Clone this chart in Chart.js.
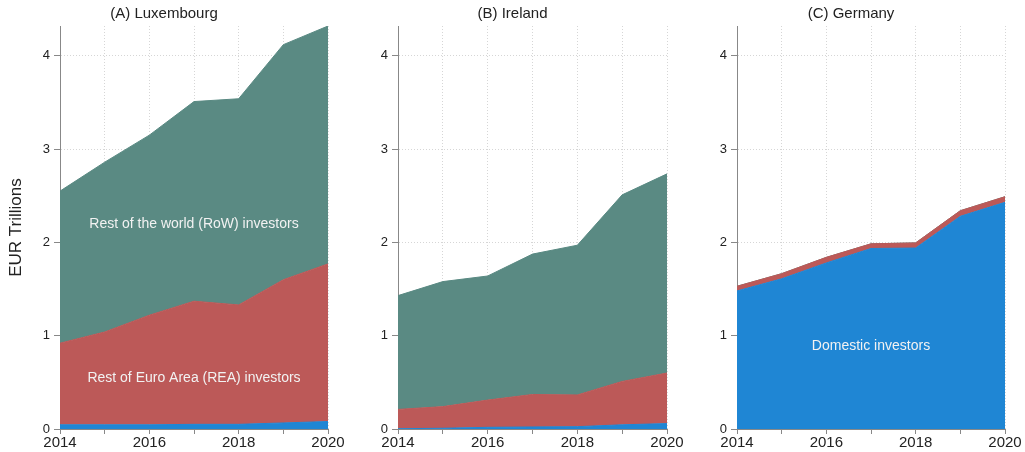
<!DOCTYPE html>
<html>
<head>
<meta charset="utf-8">
<script src="https://cdn.jsdelivr.net/npm/chart.js@4.4.1/dist/chart.umd.min.js"></script>
<style>
  body { margin: 0; background: #fff; }
  canvas { position: absolute; top: 0; }
</style>
</head>
<body>
<canvas id="chartA" width="346" height="452" style="left:0px"></canvas>
<canvas id="chartB" width="327" height="452" style="left:358px"></canvas>
<canvas id="chartC" width="326" height="452" style="left:697px"></canvas>

<script>
// Holdings of investment fund shares by investor type, EUR trillions
const years = ['2014', '2015', '2016', '2017', '2018', '2019', '2020'];
const yTicks = [0, 1, 2, 3, 4];

// (A) Luxembourg
const luxDomestic = [0.045, 0.045, 0.045, 0.05, 0.05, 0.065, 0.08];
const luxREA      = [0.875, 0.995, 1.175, 1.32, 1.28, 1.535, 1.69];
const luxRoW      = [1.63, 1.82, 1.93, 2.14, 2.21, 2.52, 2.55];

// (B) Ireland
const ieDomestic = [0.003, 0.008, 0.018, 0.022, 0.025, 0.045, 0.058];
const ieREA      = [0.207, 0.232, 0.292, 0.348, 0.34, 0.465, 0.542];
const ieRoW      = [1.22, 1.34, 1.33, 1.505, 1.605, 2.0, 2.135];

// (C) Germany
const deDomestic = [1.48, 1.61, 1.78, 1.935, 1.94, 2.28, 2.43];
const deREA      = [0.05, 0.055, 0.06, 0.05, 0.055, 0.06, 0.06];
const deRoW      = [0, 0, 0, 0, 0, 0, 0];

const COL_DOM = '#1f86d4';
const COL_REA = '#bc5958';
const COL_ROW = '#5a8a83';

Chart.defaults.font.family = '"Liberation Sans", Arial, Helvetica, sans-serif';
Chart.defaults.color = '#222';

// writes the area labels inside the plot (x = category index, y = value)
const areaLabels = {
  id: 'areaLabels',
  afterDatasetsDraw(chart, args, opts) {
    const ctx = chart.ctx;
    const xs = chart.scales.x, ys = chart.scales.y;
    ctx.save();
    ctx.font = '14px ' + Chart.defaults.font.family;
    ctx.fillStyle = '#f2f2f2';
    ctx.textAlign = 'center';
    ctx.textBaseline = 'middle';
    (opts.items || []).forEach(it => {
      ctx.fillText(it.text, xs.getPixelForValue(it.x), ys.getPixelForValue(it.y));
    });
    ctx.restore();
  }
};

function area(label, data, color, fill) {
  return {
    label, data, fill,
    backgroundColor: color,
    borderColor: color,
    borderWidth: 1,
    pointRadius: 0,
    tension: 0,
  };
}

function makePanel(id, title, dom, rea, row, axisWidth, yTitle, items) {
  const ctx = document.getElementById(id).getContext('2d');
  return new Chart(ctx, {
    type: 'line',
    data: {
      labels: years,
      datasets: [
        area('Domestic investors', dom, COL_DOM, 'origin'),
        area('Rest of Euro Area (REA) investors', rea, COL_REA, '-1'),
        area('Rest of the world (RoW) investors', row, COL_ROW, '-1'),
      ]
    },
    options: {
      responsive: false,
      animation: false,
      layout: { padding: { top: 0, right: 18, bottom: 0, left: 0 } },
      plugins: {
        legend: { display: false },
        tooltip: { enabled: false },
        title: {
          display: true, text: title,
          font: { size: 15, weight: 'normal' },
          color: '#222',
          padding: { top: 5, bottom: 3 }
        },
        areaLabels: { items }
      },
      scales: {
        x: {
          offset: false,
          grid: { color: '#d6d6d6', tickColor: '#888', tickLength: 5, drawOnChartArea: true },
          border: { color: '#888', dash: [1, 2] },
          ticks: {
            autoSkip: false, maxRotation: 0, padding: 0,
            font: { size: 15 }, color: '#222',
            callback: function (v, i) { return i % 2 === 0 ? this.getLabelForValue(v) : ''; }
          }
        },
        y: {
          stacked: true,
          min: 0, max: 4.32,
          afterFit: (s) => { s.width = axisWidth; },
          afterBuildTicks: (s) => { s.ticks = yTicks.map(v => ({ value: v })); },
          grid: { color: '#d6d6d6', tickColor: '#888', tickLength: 6 },
          border: { color: '#888', dash: [1, 2] },
          ticks: { padding: 4, font: { size: 13 }, color: '#222' },
          title: {
            display: !!yTitle, text: yTitle,
            font: { size: 17 }, color: '#222',
            padding: { top: 6, bottom: 0 }
          }
        }
      }
    },
    plugins: [areaLabels]
  });
}

makePanel('chartA', '(A) Luxembourg', luxDomestic, luxREA, luxRoW, 60, 'EUR Trillions', [
  { text: 'Rest of the world (RoW) investors', x: 3, y: 2.2 },
  { text: 'Rest of Euro Area (REA) investors', x: 3, y: 0.55 },
]);
makePanel('chartB', '(B) Ireland', ieDomestic, ieREA, ieRoW, 40, '', []);
makePanel('chartC', '(C) Germany', deDomestic, deREA, deRoW, 40, '', [
  { text: 'Domestic investors', x: 3, y: 0.89 },
]);
</script>
</body>
</html>
